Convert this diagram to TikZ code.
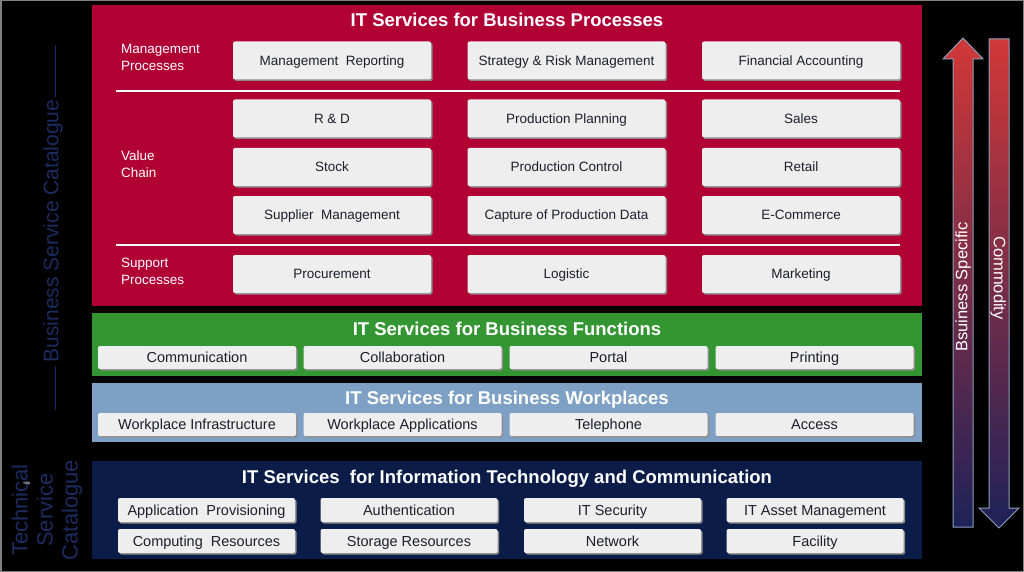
\documentclass[tikz,border=0pt]{standalone}
\usepackage{fontspec}
\setmainfont{Liberation Sans}
\usetikzlibrary{positioning,shadows}

\definecolor{bpred}{RGB}{176,0,52}
\definecolor{bfgreen}{RGB}{52,150,50}
\definecolor{bwblue}{RGB}{125,160,196}
\definecolor{itnavy}{RGB}{12,28,72}
\definecolor{boxgray}{RGB}{238,238,238}
\definecolor{boxtext}{RGB}{30,30,45}
\definecolor{catblue}{RGB}{28,44,96}
\definecolor{arrred}{RGB}{210,56,56}
\definecolor{arrnavy}{RGB}{30,34,88}
\definecolor{arredge}{RGB}{140,160,185}

\tikzset{
  svc/.style={fill=boxgray, text=boxtext, rounded corners=2pt, inner sep=0pt,
    font=\fontsize{13.5}{15}\selectfont, text height=12.5pt, text depth=2.8pt,
    drop shadow={shadow xshift=1.5pt, shadow yshift=-1.5pt, fill=black!45, opacity=1}},
  bigsvc/.style={svc, font=\fontsize{14.5}{16}\selectfont, text height=13.3pt, text depth=3pt},
  panel/.style={anchor=north west, inner sep=0pt, minimum width=830pt},
  paneltitle/.style={text=white, inner sep=0pt, text height=16pt, text depth=3.5pt,
    font=\bfseries\fontsize{18.5}{20}\selectfont},
  grouplabel/.style={anchor=west, align=left, text=white, inner sep=0pt,
    font=\fontsize{13.5}{17}\selectfont},
  catlabel/.style={text=catblue, rotate=90},
  arrlabel/.style={text=white, font=\fontsize{16.5}{18}\selectfont},
}

\begin{document}
\begin{tikzpicture}[x=1pt,y=-1pt]
  \useasboundingbox (0,0) rectangle (1024,572);
  \fill[black] (0,0) rectangle (1024,572);
  \draw[gray, line width=1.5pt] (0.75,0.75) rectangle (1023.25,571.25);

  % panels
  \node (bp) [panel, fill=bpred, minimum height=301pt] at (92,5) {};
  \node (bf) [panel, fill=bfgreen, minimum height=63pt] at (92,313) {};
  \node (bw) [panel, fill=bwblue, minimum height=59pt] at (92,383) {};
  \node (it) [panel, fill=itnavy, minimum height=98pt] at (92,461) {};

  \node (bptitle) [paneltitle] at (507,20) {IT Services for Business Processes};
  \node (bftitle) [paneltitle] at (507,329) {IT Services for Business Functions};
  \node (bwtitle) [paneltitle] at (507,398) {IT Services for Business Workplaces};
  \node (ittitle) [paneltitle] at (507,477) {IT Services\ \ for Information Technology and Communication};

  % business processes
  \node (mgmt) [grouplabel] at (121,57.5) {Management\\Processes};
  \node (value) [grouplabel] at (121,164.5) {Value\\Chain};
  \node (support) [grouplabel] at (121,271.5) {Support\\Processes};
  \draw[white, line width=2.5pt] (116,91) -- (900,91);
  \draw[white, line width=2.5pt] (116,245) -- (900,245);

  \foreach \name/\x/\y/\txt in {
      mr/332/60.5/Management\ \ Reporting,
      srm/566.5/60.5/Strategy \& Risk Management,
      fa/801/60.5/Financial Accounting,
      rd/332/118.5/R \& D,
      pp/566.5/118.5/Production Planning,
      sales/801/118.5/Sales,
      stock/332/167/Stock,
      pc/566.5/167/Production Control,
      retail/801/167/Retail,
      sm/332/215/Supplier\ \ Management,
      cpd/566.5/215/Capture of Production Data,
      ecom/801/215/E-Commerce,
      proc/332/274/Procurement,
      log/566.5/274/Logistic,
      mkt/801/274/Marketing}
    \node (\name) [svc, minimum width=198pt, minimum height=38pt] at (\x,\y) {\txt};

  % business functions and workplaces
  \foreach \name/\x/\txt in {
      comm/197/Communication,
      collab/402.5/Collaboration,
      portal/608.5/Portal,
      print/814.5/Printing}
    \node (\name) [bigsvc, minimum width=198pt, minimum height=23pt] at (\x,357.5) {\txt};
  \foreach \name/\x/\txt in {
      wi/197/Workplace Infrastructure,
      wa/402.5/Workplace Applications,
      tel/608.5/Telephone,
      acc/814.5/Access}
    \node (\name) [bigsvc, minimum width=198pt, minimum height=23pt] at (\x,424.5) {\txt};

  % information technology
  \foreach \name/\x/\y/\txt in {
      ap/206.5/510/Application\ \ Provisioning,
      auth/409/510/Authentication,
      sec/612.5/510/IT Security,
      asset/815/510/IT Asset Management,
      cr/206.5/541/Computing\ \ Resources,
      stor/409/541/Storage Resources,
      net/612.5/541/Network,
      fac/815/541/Facility}
    \node (\name) [bigsvc, minimum width=177pt, minimum height=24pt] at (\x,\y) {\txt};

  % catalogue labels
  \node (bsc) [catlabel, font=\fontsize{21}{23}\selectfont] at (53,231) {Business Service Catalogue};
  \draw[catblue, line width=1pt] (55,45) -- (55,97);
  \draw[catblue, line width=1pt] (55,366) -- (55,410);
  \node (tsc) [catlabel, align=center, font=\fontsize{22}{25}\selectfont] at (47,510) {Technical\\Service\\Catalogue};
  \node (http) [text=white, font=\fontsize{4}{4}\selectfont, inner sep=0pt] at (27,483) {http};

  % arrows
  \shade[top color=arrred, bottom color=arrnavy, draw=arredge, line width=1pt]
    (953,527) -- (953,59) -- (943,59) -- (963,38) -- (983,59) -- (973,59) -- (973,527) -- cycle;
  \shade[top color=arrred, bottom color=arrnavy, draw=arredge, line width=1pt]
    (989,39) -- (1009,39) -- (1009,508) -- (1019,508) -- (999,528) -- (979,508) -- (989,508) -- cycle;
  \node (spec) [arrlabel, rotate=90] at (963,287) {Bsuiness Specific};
  \node (commod) [arrlabel, rotate=-90] at (998,278) {Commodity};
\end{tikzpicture}
\end{document}
